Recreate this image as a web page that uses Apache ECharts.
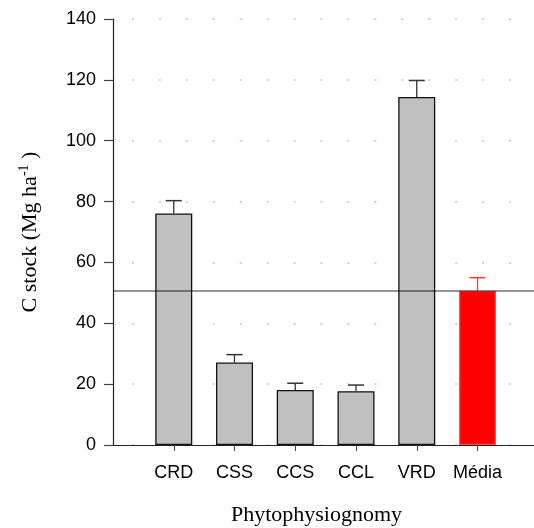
<!DOCTYPE html>
<html>
<head>
<meta charset="utf-8">
<script src="https://cdn.jsdelivr.net/npm/echarts@6/dist/echarts.min.js"></script>
<style>
  html, body { margin: 0; padding: 0; background: #fff; }
  #chart { width: 534px; height: 528px; }
</style>
</head>
<body>
<div id="chart"></div>
<script>
// C stock per phytophysiognomy
var categories = ['CRD', 'CSS', 'CCS', 'CCL', 'VRD', 'Média'];
var positions = [1, 2, 3, 4, 5, 6];
var stock = [76.1, 27.1, 18.1, 17.7, 114.4, 50.7];
var stdErr = [4.2, 2.6, 2.2, 2.0, 5.4, 4.3];
var meanValue = 50.7;

var chart = echarts.init(document.getElementById('chart'), null, { renderer: 'canvas' });

var sansFont = '"Liberation Sans", Arial, sans-serif';
var serifFont = '"Liberation Serif", "Times New Roman", serif';

var barData = positions.map(function (p, i) {
  var item = { value: [p, stock[i]] };
  if (categories[i] === 'Média') {
    item.itemStyle = { color: '#ff0000', borderColor: '#ff5050' };
  }
  return item;
});

var errData = positions.map(function (p, i) {
  return [p, stock[i], stock[i] + stdErr[i]];
});

var option = {
  backgroundColor: '#fff',
  animation: false,
  grid: {
    left: 113,
    right: 0,
    top: 19,
    bottom: 83,
    outerBoundsMode: 'none'
  },
  xAxis: [{
    type: 'value',
    min: 0,
    max: 6.93,
    interval: 1,
    name: 'Phytophysiognomy',
    nameLocation: 'middle',
    nameGap: 59,
    nameTextStyle: {
      fontFamily: serifFont,
      fontSize: 22,
      color: '#000',
      padding: [0, 14, 0, 0]
    },
    axisLine: { show: true, onZero: false, lineStyle: { color: '#444', width: 1.2 } },
    axisTick: {
      show: true,
      length: 6,
      customValues: positions,
      lineStyle: { color: '#444', width: 1 }
    },
    axisLabel: {
      customValues: positions,
      margin: 19,
      fontFamily: sansFont,
      fontSize: 18,
      color: '#000',
      formatter: function (v) {
        return categories[Math.round(v) - 1] || '';
      }
    },
    splitLine: { show: false }
  }, {
    type: 'value',
    position: 'top',
    min: 0,
    max: 6.93,
    axisLine: { show: true, lineStyle: { color: '#222', width: 1.2 } },
    axisTick: { show: false },
    axisLabel: { show: false },
    splitLine: { show: false }
  }],
  yAxis: {
    type: 'value',
    min: 0,
    max: 140,
    interval: 20,
    name: 'C stock (Mg ha{sup|-1} )',
    nameLocation: 'middle',
    nameGap: 70,
    nameTextStyle: {
      fontFamily: serifFont,
      fontSize: 22,
      color: '#000',
      rich: {
        sup: {
          fontFamily: serifFont,
          fontSize: 14,
          color: '#000',
          verticalAlign: 'top',
          padding: [0, 0, 12, 0]
        }
      }
    },
    axisLine: { show: true, lineStyle: { color: '#222', width: 1.2 } },
    axisTick: { show: true, length: 9, lineStyle: { color: '#444', width: 1.2 } },
    axisLabel: {
      margin: 17,
      fontFamily: sansFont,
      fontSize: 18,
      color: '#000'
    },
    splitLine: {
      show: true,
      lineStyle: {
        color: '#c4c4c4',
        width: 1.5,
        type: [2, 24.93],
        dashOffset: 7.93
      }
    }
  },
  series: [{
    type: 'bar',
    data: barData,
    barWidth: 37,
    itemStyle: {
      color: '#c0c0c0',
      borderColor: '#111',
      borderWidth: 1.3
    }
  }, {
    type: 'custom',
    data: errData,
    z: 3,
    renderItem: function (params, api) {
      var x = api.value(0);
      var base = api.coord([x, api.value(1)]);
      var top = api.coord([x, api.value(2)]);
      var color = params.dataIndex === 5 ? '#ff3a3a' : '#333';
      var half = 8;
      return {
        type: 'group',
        children: [{
          type: 'line',
          shape: { x1: top[0], y1: base[1], x2: top[0], y2: top[1] },
          style: { stroke: color, lineWidth: 1.3 }
        }, {
          type: 'line',
          shape: { x1: top[0] - half, y1: top[1], x2: top[0] + half, y2: top[1] },
          style: { stroke: color, lineWidth: 1.5 }
        }]
      };
    }
  }, {
    type: 'line',
    data: [],
    z: 5,
    markLine: {
      silent: true,
      symbol: 'none',
      label: { show: false },
      lineStyle: { color: 'rgba(0,0,0,0.55)', width: 1.5, type: 'solid' },
      data: [{ yAxis: meanValue }]
    }
  }]
};

chart.setOption(option);
</script>
</body>
</html>
